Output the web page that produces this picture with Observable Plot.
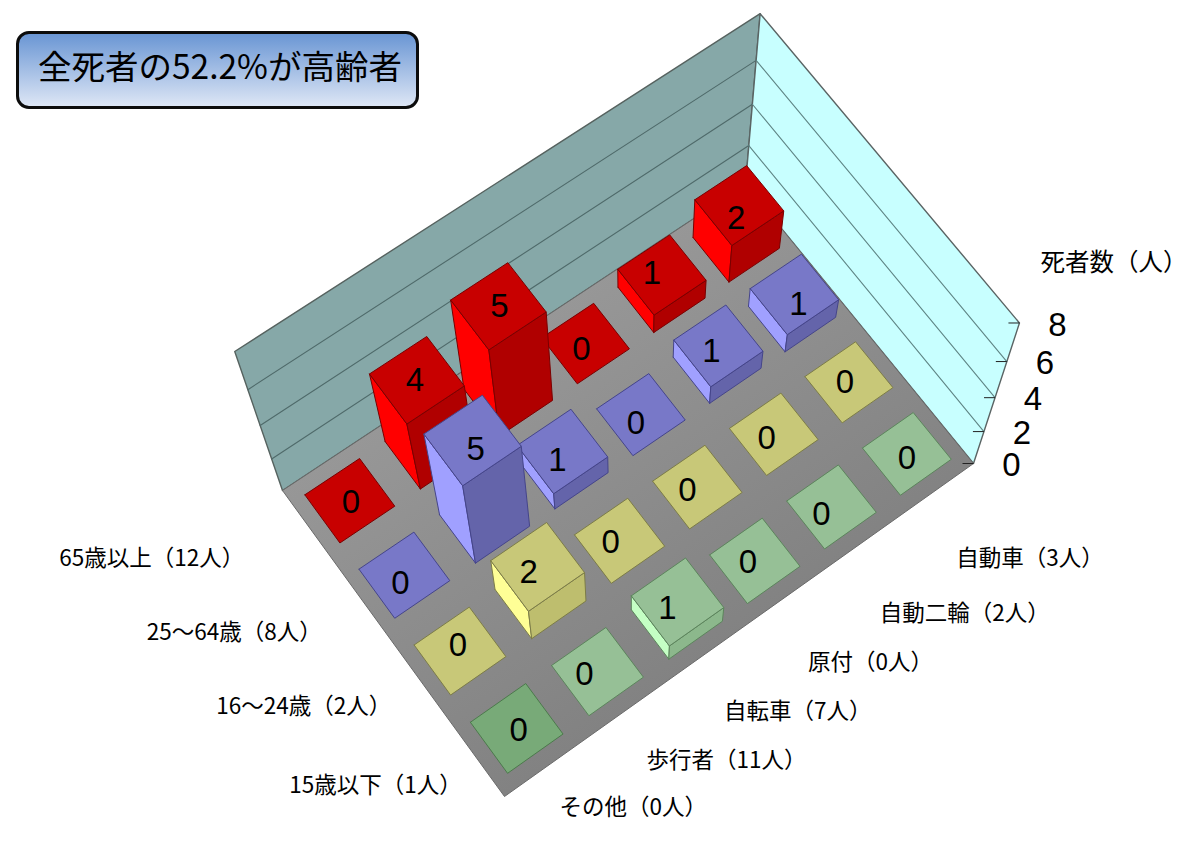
<!DOCTYPE html>
<html lang="ja">
<head>
<meta charset="utf-8">
<script src="https://cdn.jsdelivr.net/npm/d3@7"></script>
<script src="https://cdn.jsdelivr.net/npm/@observablehq/plot@0.6"></script>
<style>
html,body{margin:0;padding:0;background:#fff}
#wrap{position:relative;width:1200px;height:842px;overflow:hidden}
#title{position:absolute;left:16px;top:31px;width:397px;height:72px;border:3px solid #0c0c0c;border-radius:13px;
background:linear-gradient(#6a96d4,#dde6f5);font:400 33.5px "Noto Sans CJK JP",sans-serif;color:#000;line-height:70px;white-space:nowrap}
#title span{position:absolute;left:19px;top:-4px}
</style>
</head>
<body>
<div id="wrap"><div id="title"><span>全死者の52.2%が高齢者</span></div></div>
<script>
// ---- data ----
const categories = ["その他（0人）","歩行者（11人）","自転車（7人）","原付（0人）","自動二輪（2人）","自動車（3人）"];
const ageGroups = ["65歳以上（12人）","25～64歳（8人）","16～24歳（2人）","15歳以下（1人）"];
const deaths65plus = [0,4,5,0,1,2];
const deaths25to64 = [0,5,1,0,1,1];
const deaths16to24 = [0,2,0,0,0,0];
const deaths15under = [0,0,1,0,0,0];
const zTicks = [0,2,4,6,8];
const zTitle = "死者数（人）";

// ---- styles and label layout ----
const rowPalette = [
  {top:"#c80000",left:"#ff0000",front:"#b00000",edge:"#7a0000"},
  {top:"#7878c8",left:"#a0a0ff",front:"#6464aa",edge:"#45458a"},
  {top:"#c8c878",left:"#ffff96",front:"#bebe6e",edge:"#7c7c48"},
  {top:"#96c096",left:"#c4ffc4",front:"#8cb88c",edge:"#5c845c"}
];
const darkCell = {top:"#78aa78",edge:"#4c7a4c"}; // その他 / 15歳以下
const catLabelOffset = [[14,40],[20,51],[18,58],[24,65],[19,70],[20,69]];
const ageLabelOffset = [[-65,31],[-42,30],[-28,28],[-14,29]];
const valueLabelNudge = [
  [[1,2],[-2,0],[1,0],[-4,6],[-10,-1],[-3,13]],
  [[-4,9],[3,9],[-5,9],[-5,9],[-7,6],[4,10]],
  [[-2,-5],[-9,6],[-9,2],[-10,4],[-7,4],[-4,0]],
  [[2,2],[-13,3],[-10,7],[-7,2],[-10,8],[0,5]]
];

// ---- camera: floor corners + top corners of walls ----
const floorQuad = [[282,490],[745,184],[973,463],[504,796]]; // (u,v)=(0,0),(1,0),(1,1),(0,1)
const wallTops = [[0,0,238,355],[1,0,757,7],[1,1,1018,325]];
const zMax = 8;
function makeCamera(){
  const [[x0,y0],[x1,y1],[x2,y2],[x3,y3]] = floorQuad;
  const dx1=x1-x2,dx2=x3-x2,sx=x0-x1+x2-x3,dy1=y1-y2,dy2=y3-y2,sy=y0-y1+y2-y3;
  const den=dx1*dy2-dx2*dy1;
  const g=(sx*dy2-dx2*sy)/den,h=(dx1*sy-sx*dy1)/den;
  const a=x1-x0+g*x1,b=x3-x0+h*x3,c=x0,d=y1-y0+g*y1,e=y3-y0+h*y3,f=y0;
  const rows=[],rhs=[];
  for(const [u,v,X,Y] of wallTops){
    const w=g*u+h*v+1;
    rows.push([1,0,-X]);rhs.push(X*w-(a*u+b*v+c));
    rows.push([0,1,-Y]);rhs.push(Y*w-(d*u+e*v+f));
  }
  const A=[[0,0,0],[0,0,0],[0,0,0]],B=[0,0,0];
  rows.forEach((r,k)=>{for(let i=0;i<3;i++){B[i]+=r[i]*rhs[k];for(let j=0;j<3;j++)A[i][j]+=r[i]*r[j];}});
  for(let i=0;i<3;i++){
    const p=A[i][i];
    for(let j=i;j<3;j++)A[i][j]/=p; B[i]/=p;
    for(let k=0;k<3;k++)if(k!==i){const m=A[k][i];for(let j=i;j<3;j++)A[k][j]-=m*A[i][j];B[k]-=m*B[i];}
  }
  const [C,F,J]=B;
  return (u,v,val=0)=>{
    const t=val/zMax,w=g*u+h*v+J*t+1;
    return [(a*u+b*v+C*t+c)/w,(d*u+e*v+F*t+f)/w];
  };
}
const project = makeCamera();

// ---- polygons, painted back to front ----
const polys=[];let pid=0;
function poly(corners,fill,stroke){
  const id=pid++;
  [...corners,corners[0]].forEach(([u,v,z])=>{
    const [x,y]=project(u,v,z);
    polys.push({x,y,id,fill,stroke});
  });
  return id;
}
poly([[0,0,0],[1,0,0],[1,0,zMax],[0,0,zMax]],"#86a8a8","#56625f");
poly([[1,0,0],[1,1,0],[1,1,zMax],[1,0,zMax]],"#c8ffff","#5a6464");
const floorPts=[[0,0],[1,0],[1,1],[0,1],[0,0]].map(([u,v])=>{const [x,y]=project(u,v,0);return {x,y};});
const gridPts=[];
zTicks.slice(1,-1).forEach((z,k)=>{
  [[[0,0,z],[1,0,z],"#4f6a6a"],[[1,0,z],[1,1,z],"#5f8585"]].forEach(([a,b,s],q)=>{
    [a,b].forEach(([u,v,zz])=>{const [x,y]=project(u,v,zz);gridPts.push({x,y,id:k+"-"+q,stroke:s});});
  });
});
const wallCount=pid;

const table=[deaths65plus,deaths25to64,deaths16to24,deaths15under];
const cellW=0.68, cellD=0.65;
const labels=[];
table.forEach((row,j)=>{
  for(let i=categories.length-1;i>=0;i--){
    const val=row[i],p=rowPalette[j];
    const u0=(i+.5-cellW/2)/6,u1=(i+.5+cellW/2)/6,v0=(j+.5-cellD/2)/4,v1=(j+.5+cellD/2)/4;
    const dark=(j===3&&i===0);
    const top=dark?darkCell.top:p.top, edge=dark?darkCell.edge:p.edge;
    if(val>0){
      poly([[u0,v0,0],[u0,v1,0],[u0,v1,val],[u0,v0,val]],p.left,edge);
      poly([[u0,v1,0],[u1,v1,0],[u1,v1,val],[u0,v1,val]],p.front,edge);
    }
    poly([[u0,v0,val],[u1,v0,val],[u1,v1,val],[u0,v1,val]],top,edge);
    const [x,y]=project((u0+u1)/2,(v0+v1)/2,val);
    labels.push({x:x+valueLabelNudge[j][i][0],y:y+valueLabelNudge[j][i][1],text:String(val)});
  }
});

const catLabels=categories.map((t,i)=>{const [x,y]=project((i+.5)/6,1,0);return {x:x+catLabelOffset[i][0],y:y+catLabelOffset[i][1],text:t};});
const ageLabels=ageGroups.map((t,j)=>{const [x,y]=project(0,(j+.5)/4,0);return {x:x+ageLabelOffset[j][0],y:y+ageLabelOffset[j][1],text:t};});
const zTickData=zTicks.map(z=>{const [x,y]=project(1,1,z);return {x,y,text:String(z)};});
const [tx,ty]=project(1,1,zMax);
const titleLabel=[{x:tx+21,y:ty-60,text:zTitle}];

const floorDefs=()=>{
  const defs=d3.create("svg:defs");
  const g=defs.append("linearGradient").attr("id","floorGrad").attr("gradientUnits","userSpaceOnUse")
    .attr("x1",400).attr("y1",300).attr("x2",700).attr("y2",750);
  g.append("stop").attr("offset",0).attr("stop-color","#9c9c9c");
  g.append("stop").attr("offset",1).attr("stop-color","#7e7e7e");
  return defs.node();
};

const jp='"Noto Sans CJK JP",sans-serif', num='"Liberation Sans Narrow","Liberation Sans",sans-serif';
const plot=Plot.plot({
  width:1200,height:842,margin:0,
  x:{domain:[0,1200],range:[0,1200],axis:null},
  y:{domain:[0,842],range:[0,842],axis:null},
  color:{type:"identity"},
  marks:[
    floorDefs,
    Plot.line(polys.filter(p=>p.id<wallCount),{x:"x",y:"y",z:"id",fill:"fill",stroke:"stroke",strokeWidth:1.4,curve:"linear"}),
    Plot.line(gridPts,{x:"x",y:"y",z:"id",stroke:"stroke",strokeWidth:1.1,curve:"linear"}),
    Plot.line(floorPts,{x:"x",y:"y",fill:"url(#floorGrad)",stroke:"#6a6a6a",strokeWidth:1,curve:"linear"}),
    Plot.line(polys.filter(p=>p.id>=wallCount),{x:"x",y:"y",z:"id",fill:"fill",stroke:"stroke",strokeWidth:1,curve:"linear"}),
    Plot.link(zTickData,{x1:d=>d.x-11,x2:"x",y1:"y",y2:"y",stroke:"#222",strokeWidth:1}),
    Plot.text(labels,{x:"x",y:"y",text:"text",fontSize:33,fontFamily:num,fill:"#000",textAnchor:"middle"}),
    Plot.text(zTickData,{x:d=>d.x+38,y:"y",text:"text",fontSize:33,fontFamily:num,fill:"#000",textAnchor:"middle",dy:2}),
    Plot.text(catLabels,{x:"x",y:"y",text:"text",fontSize:22.5,fontFamily:jp,fill:"#000",textAnchor:"start"}),
    Plot.text(ageLabels,{x:"x",y:"y",text:"text",fontSize:22.5,fontFamily:jp,fill:"#000",textAnchor:"end"}),
    Plot.text(titleLabel,{x:"x",y:"y",text:"text",fontSize:24.5,fontFamily:jp,fill:"#000",textAnchor:"start"})
  ]
});
plot.style.position="absolute";plot.style.left="0";plot.style.top="0";
const wrap=document.getElementById("wrap");
wrap.insertBefore(plot,wrap.firstChild);
</script>
</body>
</html>
